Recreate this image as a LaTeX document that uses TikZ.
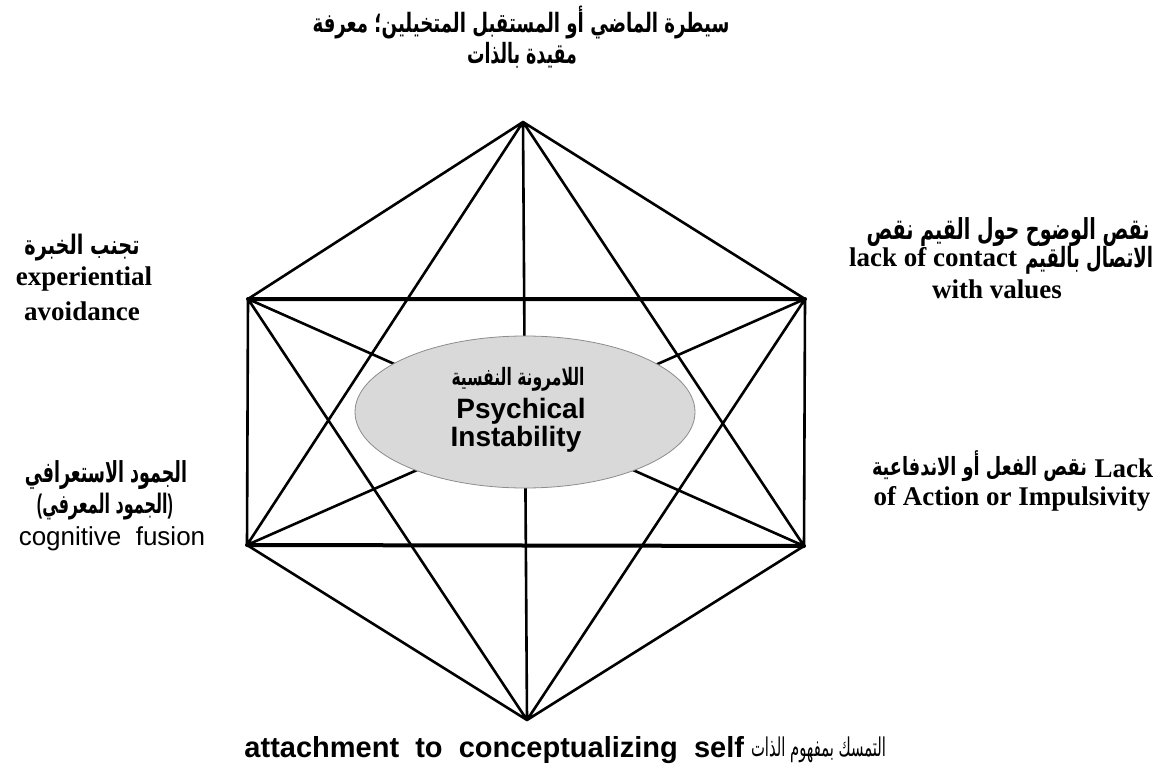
\documentclass[tikz,border=0pt]{standalone}
\usepackage{graphicx}
\usepackage{fontspec}
\setmainfont{Liberation Serif}
\newfontfamily\arial{Liberation Sans}
\newfontfamily\tnr{Liberation Serif}
\newfontfamily\arabicfont[Script=Arabic]{DejaVu Sans}
\usetikzlibrary{shapes.geometric}
\TeXXeTstate=1
% width, total height, text
\newcommand\arb[3]{\resizebox*{#1pt}{#2pt}{\arabicfont\bfseries #3}}
\newcommand\arr[3]{\resizebox*{#1pt}{#2pt}{\arabicfont #3}}
\begin{document}
\begin{tikzpicture}[x=1pt,y=-1pt,
  edge/.style={line width=2.6pt, line cap=round},
  hedge/.style={line width=4pt, line cap=round},
  lbl/.style={inner sep=0pt, outer sep=0pt},
  en/.style={lbl, font=\tnr\bfseries\fontsize{27}{32}\selectfont},
  ensans/.style={lbl, font=\arial\bfseries\fontsize{28}{32}\selectfont},
  core/.style={ellipse, draw=black!45, line width=0.8pt, fill=black!15,
    minimum width=340pt, minimum height=152pt, inner sep=0pt}]
\useasboundingbox (0,0) rectangle (1174,778);

% vertices
\coordinate (T) at (523,122);
\coordinate (UL) at (248,299);
\coordinate (UR) at (805,299);
\coordinate (LL) at (247,545);
\coordinate (LR) at (804,546);
\coordinate (B) at (527,720);

% connectors
\draw[edge] (T)--(UL) (T)--(UR) (T)--(LL) (T)--(LR) (T)--(B)
  (UL)--(LL) (UR)--(LR) (UL)--(LR) (UR)--(LL)
  (UL)--(B) (UR)--(B) (LL)--(B) (LR)--(B);
\draw[hedge] (UL)--(UR) (LL)--(LR);

% central ellipse
\node[core] (psy) at (525,412) {};
\node[lbl] (psyar) at (518,379) {\arb{133}{24}{\beginR اللامرونة النفسية\endR}};
\node[ensans, anchor=base] (psy1) at (521,418) {Psychical};
\node[ensans, anchor=base] (psy2) at (516,446) {Instability};

% top
\node[lbl] (top1) at (521,23) {\arb{417}{33}{\beginR سيطرة الماضي أو المستقبل المتخيلين؛ معرفة\endR}};
\node[lbl] (top2) at (522,55) {\arb{110}{26}{\beginR مقيدة بالذات\endR}};

% upper left
\node[lbl] (ea0) at (82,248) {\arb{115}{27}{\beginR تجنب الخبرة\endR}};
\node[en, anchor=base] (ea1) at (84,285) {experiential};
\node[en, anchor=base] (ea2) at (82,320) {avoidance};

% upper right
\node[lbl] (va0) at (1008,232) {\arb{283}{29}{\beginR نقص الوضوح حول القيم نقص\endR}};
\node[en, anchor=base east] (va1) at (1017,266) {lack of contact};
\node[lbl, anchor=west] (va1ar) at (1025,260) {\arb{128}{28}{\beginR الاتصال بالقيم\endR}};
\node[en, anchor=base] (va2) at (997,298) {with values};

% lower left
\node[lbl] (cf0) at (106,475) {\arb{162}{29}{\beginR الجمود الاستعرافي\endR}};
\node[lbl] (cf1) at (105,507) {\resizebox*{136pt}{27pt}{{\arial\bfseries(}{\arabicfont\bfseries\beginR الجمود المعرفي\endR}{\arial\bfseries)}}};
\node[lbl, anchor=base, font=\arial\fontsize{26}{30}\selectfont] (cf2) at (112,545) {cognitive\ \ fusion};

% lower right
\node[lbl, anchor=east] (ac0) at (1087,466) {\arb{215}{31}{\beginR نقص الفعل أو الاندفاعية\endR}};
\node[en, anchor=base east] (ac1) at (1153,477) {Lack};
\node[en, anchor=base] (ac2) at (1012,505) {of Action or Impulsivity};

% bottom
\node[ensans, anchor=base east, font=\arial\bfseries\fontsize{29}{32}\selectfont] (bt1) at (744,757) {attachment\ \ to\ \ conceptualizing\ \ self};
\node[lbl, anchor=west] (bt0) at (751,750) {\arr{135}{26}{\beginR التمسك بمفهوم الذات\endR}};
\end{tikzpicture}
\end{document}
